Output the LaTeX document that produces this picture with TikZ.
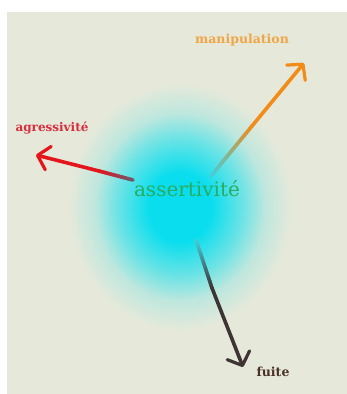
\documentclass[tikz,border=0pt]{standalone}
\usepackage{fontspec}
\setmainfont{DejaVu Serif}
\usetikzlibrary{arrows.meta,calc}
\definecolor{bgc}{RGB}{230,233,218}
\definecolor{cyanc}{RGB}{10,222,238}
\definecolor{asgreen}{RGB}{40,172,95}
\definecolor{manor}{RGB}{240,165,70}
\definecolor{agred}{RGB}{215,45,60}
\definecolor{fudark}{RGB}{75,50,40}
\definecolor{arrred}{RGB}{228,22,28}
\definecolor{arrgray}{RGB}{110,90,110}
\definecolor{arror}{RGB}{242,140,25}
\definecolor{arrcy}{RGB}{70,205,215}
\definecolor{arrdark}{RGB}{62,52,52}
\colorlet{cymid}{cyanc!55!bgc}
\colorlet{cylow}{cyanc!18!bgc}
\pgfdeclareradialshading{blob}{\pgfpoint{0bp}{0bp}}{color(0bp)=(cyanc); color(7bp)=(cyanc); color(14bp)=(cymid); color(19bp)=(cylow); color(25bp)=(bgc); color(50bp)=(bgc)}
\tikzset{
  brush/.style={line width=3.6pt, line cap=round, line join=round},
  head/.style={-{Straight Barb[length=11pt,width=24pt,line width=3.2pt,round]}},
  lbl/.style={inner sep=0pt}
}
% gradient segment: #1 start, #2 end, #3 colour A, #4 colour B
\newcommand{\gradseg}[4]{%
  \foreach \i in {0,...,19}{%
    \pgfmathsetmacro{\pp}{100-\i*5}%
    \draw[brush, color=#3!\pp!#4] ($(#1)!\i/20!(#2)$) -- ($(#1)!\i/20+0.06!(#2)$);
  }%
}
\begin{document}
\begin{tikzpicture}[x=1pt,y=-1pt]
\useasboundingbox (0,0) rectangle (347,394);
\fill[white] (0,0) rectangle (347,394);
\fill[bgc] (7,12) rectangle (347,394);
\begin{scope}
\clip (7,12) rectangle (347,394);
\shade[shading=blob] (180,207) ellipse [x radius=112, y radius=124];
\end{scope}

% labels
\node[lbl, font=\fontsize{20}{20}\selectfont, text=asgreen] (center) at (187,189) {assertivité};
\node[lbl, font=\bfseries\fontsize{12.5}{12.5}\selectfont, text=manor] (manip) at (242,40) {manipulation};
\node[lbl, font=\bfseries\fontsize{12}{12}\selectfont, text=agred] (agress) at (52,128) {agressivité};
\node[lbl, font=\bfseries\fontsize{12.5}{12.5}\selectfont, text=fudark] (fuite) at (273,372) {fuite};

% arrow coordinates
\coordinate (a0) at (133,180);
\coordinate (a1) at (99,171);
\coordinate (atip) at (36,155);
\coordinate (m0) at (211,176);
\coordinate (m1) at (252,126);
\coordinate (mtip) at (304,63);
\coordinate (f0) at (196,240);
\coordinate (f1) at (212,288);
\coordinate (ftip) at (243,367);

% agressivite arrow
\gradseg{a0}{a1}{arrgray}{arrred}
\draw[brush, arrred, head] (a1) -- (atip);
% manipulation arrow
\gradseg{m0}{m1}{arrcy}{arror}
\draw[brush, arror, head] (m1) -- (mtip);
% fuite arrow
\gradseg{f0}{f1}{arrcy}{arrdark}
\draw[brush, arrdark, head] (f1) -- (ftip);
\end{tikzpicture}
\end{document}
